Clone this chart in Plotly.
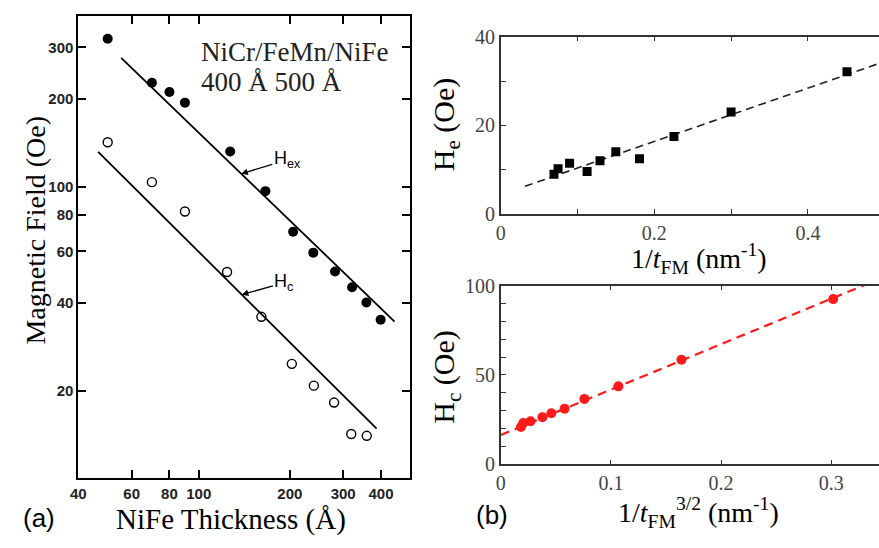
import math
import plotly.graph_objects as go

# ---------------- Panel (a): NiCr/FeMn/NiFe, log-log ----------------
thk_hex = [50, 70, 80, 90, 127, 166, 205, 239, 282, 321, 358, 399]
hex_vals = [321, 227, 211, 194, 132, 96.5, 70, 59.4, 51.2, 45.2, 40.1, 35]
thk_hc = [50, 70, 90, 124, 161, 203, 240, 280, 319, 359]
hc_vals = [142, 103.6, 82.2, 51, 35.8, 24.7, 20.8, 18.2, 14.2, 14.0]
# power-law guide lines  H = A * t^p  drawn between t0 and t1
hex_fit_A, hex_fit_p, hex_fit_t = 15300, -1.0, [55.4, 443.6]
hc_fit_A, hc_fit_p, hc_fit_t = 6862, -1.03, [46.5, 387]
a_xticks = [40, 60, 80, 100, 200, 300, 400]
a_yticks = [20, 40, 60, 80, 100, 200, 300]

# ---------------- Panel (b) top: He vs 1/tFM ----------------
inv_t = [0.0693, 0.0746, 0.0896, 0.1124, 0.1292, 0.1498, 0.1806, 0.2255, 0.2999, 0.4508]
he_vals = [9.0, 10.25, 11.46, 9.6, 12.04, 14.05, 12.47, 17.5, 23.0, 32.1]
he_fit_b, he_fit_m, he_fit_x = 4.4, 60.0, [0.0315, 0.5]

# ---------------- Panel (b) bottom: Hc vs 1/tFM^(3/2) ----------------
inv_t32 = [0.0183, 0.0204, 0.027, 0.0378, 0.0459, 0.0579, 0.0759, 0.1067, 0.164, 0.3017]
hcb_vals = [20.9, 23.1, 24.1, 26.3, 28.6, 31.1, 36.6, 43.6, 58.5, 92.4]
hcb_fit_b, hcb_fit_m, hcb_fit_x = 16.4, 254.0, [0.0, 0.34]

W, H = 879, 548

def px(x):
    return x / W

def py(y):
    return 1 - y / H

fig = go.Figure()

# panel (a)
fig.add_trace(go.Scatter(x=hex_fit_t, y=[hex_fit_A * t ** hex_fit_p for t in hex_fit_t],
                         mode="lines", line=dict(color="black", width=1.8),
                         xaxis="x", yaxis="y", showlegend=False))
fig.add_trace(go.Scatter(x=hc_fit_t, y=[hc_fit_A * t ** hc_fit_p for t in hc_fit_t],
                         mode="lines", line=dict(color="black", width=1.8),
                         xaxis="x", yaxis="y", showlegend=False))
fig.add_trace(go.Scatter(x=thk_hex, y=hex_vals, mode="markers",
                         marker=dict(symbol="circle", size=10, color="black"),
                         xaxis="x", yaxis="y", showlegend=False))
fig.add_trace(go.Scatter(x=thk_hc, y=hc_vals, mode="markers",
                         marker=dict(symbol="circle-open", size=9, color="black",
                                     line=dict(width=1.4, color="black")),
                         xaxis="x", yaxis="y", showlegend=False))

# panel (b) top
fig.add_trace(go.Scatter(x=he_fit_x, y=[he_fit_b + he_fit_m * v for v in he_fit_x],
                         mode="lines", line=dict(color="#222", width=1.6, dash="8px,5px"),
                         xaxis="x2", yaxis="y2", showlegend=False))
fig.add_trace(go.Scatter(x=inv_t, y=he_vals, mode="markers",
                         marker=dict(symbol="square", size=9, color="black"),
                         xaxis="x2", yaxis="y2", showlegend=False))

# panel (b) bottom
fig.add_trace(go.Scatter(x=hcb_fit_x, y=[hcb_fit_b + hcb_fit_m * v for v in hcb_fit_x],
                         mode="lines", line=dict(color="#ff1a1a", width=2.2, dash="9px,6px"),
                         xaxis="x3", yaxis="y3", showlegend=False))
fig.add_trace(go.Scatter(x=inv_t32, y=hcb_vals, mode="markers",
                         marker=dict(symbol="circle", size=10, color="#ff1a1a"),
                         xaxis="x3", yaxis="y3", showlegend=False))

sans_tick = dict(family="Liberation Sans", size=15, color="#222", weight="bold")
serif_tick = dict(family="Liberation Serif", size=20, color="#444")

common_a = dict(ticks="inside", ticklen=8, tickwidth=1.5, tickcolor="black",
                showline=True, linewidth=2, linecolor="black", mirror="allticks",
                showgrid=False, zeroline=False, tickfont=sans_tick)
common_b = dict(ticks="inside", ticklen=5, tickwidth=1.3, tickcolor="#333",
                showline=True, linewidth=1.5, linecolor="#333",
                showgrid=False, zeroline=False, tickfont=serif_tick)

fig.update_layout(
    width=W, height=H,
    margin=dict(l=0, r=0, t=0, b=0),
    paper_bgcolor="white", plot_bgcolor="white",
    xaxis=dict(domain=[px(71), px(406)], anchor="y", type="log",
               range=[math.log10(40), math.log10(500)], ticklabelstandoff=1,
               tickvals=a_xticks, ticktext=[str(v) for v in a_xticks], **common_a),
    yaxis=dict(domain=[py(487), py(5)], anchor="x", type="log",
               range=[1, math.log10(385)],
               tickvals=a_yticks, ticktext=[str(v) for v in a_yticks], **common_a),
    xaxis2=dict(domain=[px(497.3), 1.0], anchor="y2", range=[0, 0.4925],
                tickvals=[0, 0.1, 0.2, 0.3, 0.4], ticktext=["0", "", "0.2", "", "0.4"],
                mirror="allticks", **common_b),
    yaxis2=dict(domain=[py(211.7), py(26.7)], anchor="x2", range=[0, 40],
                tickvals=[0, 10, 20, 30, 40], ticktext=["0", "", "20", "", "40"], **common_b),
    xaxis3=dict(domain=[px(497.3), 1.0], anchor="y3", range=[0, 0.3433],
                tickvals=[0, 0.1, 0.2, 0.3], ticktext=["0", "0.1", "0.2", "0.3"],
                mirror="allticks", **common_b),
    yaxis3=dict(domain=[py(472.3), py(286)], anchor="x3", range=[0, 100],
                tickvals=list(range(0, 101, 10)),
                ticktext=["0", "", "", "", "", "50", "", "", "", "", "100"], **common_b),
)

ann = []
def text(x, y, s, size, family, angle=0, xanchor="center", color="black"):
    ann.append(dict(x=px(x), y=py(y), xref="paper", yref="paper", text=s,
                    showarrow=False, textangle=angle, xanchor=xanchor, yanchor="middle",
                    font=dict(size=size, family=family, color=color)))

serif = "Liberation Serif"
text(225, 530, "NiFe Thickness (Å)", 29, serif)
text(28, 228, "Magnetic Field (Oe)", 28, serif, angle=-90)
text(193, 43, "NiCr/FeMn/NiFe", 27, serif, xanchor="left", color="#222")
text(193, 74, "400 Å 500 Å", 27, serif, xanchor="left", color="#222")
text(31, 528, "(a)", 26, "Liberation Sans")
text(488, 525, "(b)", 26, "Liberation Sans")
text(697, 258, "1/<i>t</i><sub>FM</sub> (nm<sup>-1</sup>)", 28, serif)
text(697, 522, "1/<i>t</i><sub>FM</sub><sup>3/2</sup> (nm<sup>-1</sup>)", 28, serif)
text(442, 118, "H<sub>e</sub> (Oe)", 30, serif, angle=-90)
text(442, 381, "H<sub>c</sub> (Oe)", 30, serif, angle=-90)

# labelled arrows on panel (a)
ann.append(dict(x=math.log10(138.2), y=math.log10(hex_fit_A * 138.2 ** hex_fit_p),
                xref="x", yref="y", text="H<sub>ex</sub>", showarrow=True,
                arrowhead=2, arrowsize=1, arrowwidth=1.3, arrowcolor="black",
                ax=46, ay=-14, font=dict(size=18, family="Liberation Sans", color="black")))
ann.append(dict(x=math.log10(138.8), y=math.log10(hc_fit_A * 138.8 ** hc_fit_p),
                xref="x", yref="y", text="H<sub>c</sub>", showarrow=True,
                arrowhead=2, arrowsize=1, arrowwidth=1.3, arrowcolor="black",
                ax=42, ay=-12, font=dict(size=18, family="Liberation Sans", color="black")))

fig.update_layout(annotations=ann)
fig.write_html("out.html")
